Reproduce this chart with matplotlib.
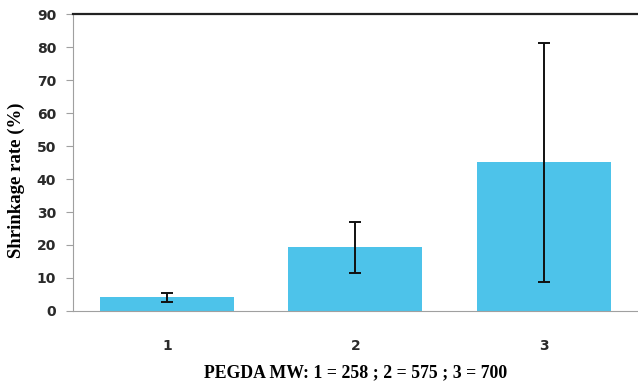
import matplotlib.pyplot as plt
import numpy as np

categories = ["1", "2", "3"]
shrinkage = [4.3, 19.3, 45.2]
err_low = [1.6, 7.7, 36.4]
err_high = [1.2, 7.6, 35.9]

fig = plt.figure(figsize=(6.38, 3.82), dpi=100)
ax = fig.add_axes([0.114, 0.186, 0.886, 0.777])

x = np.arange(1, len(categories) + 1)
ax.bar(x, shrinkage, width=0.71, color="#4DC3EA", zorder=2)
ax.errorbar(x, shrinkage, yerr=[err_low, err_high], fmt="none", ecolor="#111111",
            elinewidth=1.4, capsize=4, capthick=1.4, zorder=3)

ax.set_xlim(0.5, 3.5)
ax.set_ylim(0, 90)
ax.set_yticks(range(0, 91, 10))
ax.set_xticks(x)
ax.set_xticklabels(categories)

ax.spines["right"].set_visible(False)
ax.spines["top"].set_color("#222222")
ax.spines["top"].set_linewidth(1.6)
ax.spines["left"].set_color("#a0a0a0")
ax.spines["bottom"].set_color("#a0a0a0")
ax.tick_params(axis="y", colors="#a0a0a0", labelcolor="#2a2a2a", length=5, pad=7, labelsize=10)
ax.tick_params(axis="x", length=0, pad=20, labelcolor="#2a2a2a", labelsize=10)
for lab in ax.get_xticklabels() + ax.get_yticklabels():
    lab.set_fontweight("semibold")

ax.set_ylabel("Shrinkage rate (%)", family="Liberation Serif", fontweight="bold",
              fontsize=13.5)
ax.yaxis.set_label_coords(-0.084, 0.44)
ax.set_xlabel("PEGDA MW: 1 = 258 ; 2 = 575 ; 3 = 700", family="Liberation Serif",
              fontweight="bold", fontsize=12.8, labelpad=8)

fig.savefig("out.png", dpi=100)
